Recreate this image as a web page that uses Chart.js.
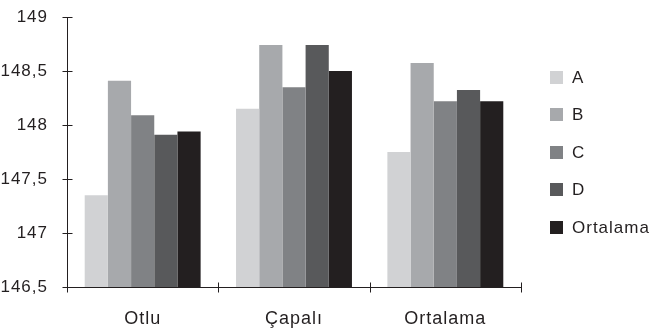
<!DOCTYPE html>
<html>
<head>
<meta charset="utf-8">
<script src="https://cdn.jsdelivr.net/npm/chart.js@4/dist/chart.umd.min.js"></script>
<style>
  html, body { margin: 0; padding: 0; background: #fff; }
  #wrap { width: 656px; height: 330px; }
</style>
</head>
<body>
<div id="wrap"><canvas id="c" width="656" height="330"></canvas></div>
<script>
// Categories and series values
const categories = ['Otlu', 'Çapalı', 'Ortalama'];
const seriesNames = ['A', 'B', 'C', 'D', 'Ortalama'];
const valuesA = [147.35, 148.15, 147.75];
const valuesB = [148.41, 148.74, 148.575];
const valuesC = [148.09, 148.35, 148.22];
const valuesD = [147.91, 148.74, 148.325];
const valuesOrtalama = [147.94, 148.50, 148.22];
const yTicks = [146.5, 147, 147.5, 148, 148.5, 149];

const seriesColors = ['#d1d2d4', '#a7a9ac', '#808285', '#58595b', '#231f20'];
const seriesValues = [valuesA, valuesB, valuesC, valuesD, valuesOrtalama];
const inkColor = '#231f20';
const FONT = '"Liberation Sans", Arial, sans-serif';

// Slightly spaced lettering for all canvas text
const spacing = {
  id: 'spacing',
  beforeUpdate(chart) { chart.ctx.letterSpacing = '1px'; },
  beforeDraw(chart) { chart.ctx.letterSpacing = '1px'; }
};

// Tick marks that cross both axes, plus the legend column on the right
const axisDecor = {
  id: 'axisDecor',
  afterDraw(chart) {
    const { ctx, chartArea, scales } = chart;
    const x = scales.x, y = scales.y;
    ctx.save();
    ctx.strokeStyle = inkColor;
    ctx.lineWidth = 1;
    ctx.beginPath();
    // y axis line and ticks
    const ax = Math.round(chartArea.left) + 0.5;
    ctx.moveTo(ax, chartArea.top);
    ctx.lineTo(ax, chartArea.bottom);
    y.ticks.forEach(t => {
      const py = Math.round(y.getPixelForValue(t.value)) + 0.5;
      ctx.moveTo(ax - 5, py);
      ctx.lineTo(ax + 5, py);
    });
    // x axis line and category boundary ticks
    const ay = Math.round(chartArea.bottom) + 0.5;
    ctx.moveTo(chartArea.left, ay);
    ctx.lineTo(chartArea.right, ay);
    const step = x.getPixelForValue(1) - x.getPixelForValue(0);
    for (let i = 0; i <= categories.length; i++) {
      const px = Math.round(x.getPixelForValue(0) - step / 2 + i * step) + 0.5;
      ctx.moveTo(px, ay - 5);
      ctx.lineTo(px, ay + 5);
    }
    ctx.stroke();

    // legend
    const rowGap = 37.5;
    const n = chart.data.datasets.length;
    const cy = (chartArea.top + chartArea.bottom) / 2;
    const boxX = chartArea.right + 29;
    ctx.font = '17px ' + FONT;
    ctx.textBaseline = 'middle';
    ctx.textAlign = 'left';
    chart.data.datasets.forEach((ds, i) => {
      const rowY = cy + (i - (n - 1) / 2) * rowGap;
      ctx.fillStyle = ds.backgroundColor;
      ctx.fillRect(boxX, Math.round(rowY - 6.5), 13, 13);
      ctx.fillStyle = inkColor;
      ctx.fillText(ds.label, boxX + 22, rowY + 1);
    });
    ctx.restore();
  }
};

new Chart(document.getElementById('c'), {
  type: 'bar',
  data: {
    labels: categories,
    datasets: seriesNames.map((name, i) => ({
      label: name,
      data: seriesValues[i],
      backgroundColor: seriesColors[i],
      borderWidth: 0,
      categoryPercentage: 0.766,
      barPercentage: 1.0
    }))
  },
  options: {
    responsive: false,
    animation: false,
    events: [],
    layout: { padding: { top: 17, right: 135, left: 0, bottom: 0 } },
    plugins: {
      legend: { display: false },
      tooltip: { enabled: false },
      title: { display: false }
    },
    scales: {
      x: {
        grid: { display: false, drawTicks: false },
        border: { display: false },
        ticks: {
          color: inkColor,
          padding: 21,
          font: { family: FONT, size: 18 }
        },
        afterFit(scale) { scale.height = 43; }
      },
      y: {
        min: 146.5,
        max: 149,
        afterBuildTicks(scale) { scale.ticks = yTicks.map(v => ({ value: v })); },
        grid: { display: false, drawTicks: false },
        border: { display: false },
        ticks: {
          color: inkColor,
          padding: 19,
          font: { family: FONT, size: 17 },
          callback: v => String(v).replace('.', ',')
        },
        afterFit(scale) {
          scale.width = 67;
          scale.paddingTop = 0;
          scale.paddingBottom = 0;
        }
      }
    }
  },
  plugins: [spacing, axisDecor]
});
</script>
</body>
</html>
